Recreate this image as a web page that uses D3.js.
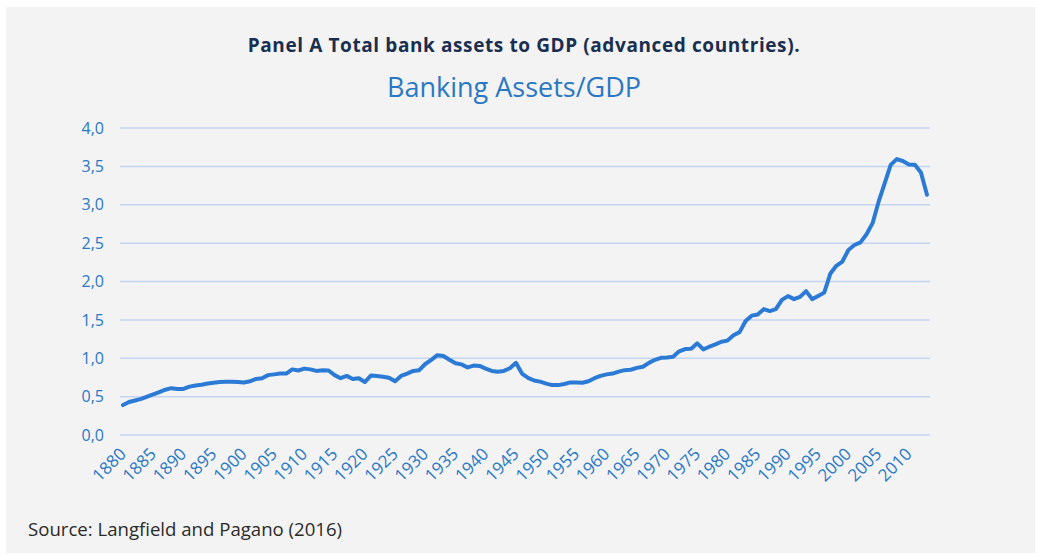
<!DOCTYPE html>
<html>
<head>
<meta charset="utf-8">
<script src="https://cdn.jsdelivr.net/npm/d3@7"></script>
<style>
  html, body { margin: 0; padding: 0; background: #ffffff; }
  svg { display: block; }
</style>
</head>
<body>
<svg id="chart" width="1037" height="555"></svg>
<script>
// Banking assets relative to GDP, advanced countries, 1880–2013
const years = d3.range(1880, 2014);
const assetsToGdp = [
  0.39, 0.43, 0.45, 0.47, 0.50, 0.53, 0.56, 0.59, 0.61, 0.60,
  0.60, 0.63, 0.645, 0.655, 0.67, 0.68, 0.69, 0.695, 0.695, 0.69,
  0.685, 0.70, 0.73, 0.74, 0.78, 0.79, 0.80, 0.80, 0.855, 0.84,
  0.865, 0.855, 0.835, 0.845, 0.84, 0.78, 0.74, 0.77, 0.73, 0.74,
  0.69, 0.775, 0.77, 0.76, 0.745, 0.70, 0.77, 0.80, 0.835, 0.845,
  0.925, 0.98, 1.04, 1.03, 0.98, 0.935, 0.92, 0.88, 0.905, 0.90,
  0.865, 0.835, 0.825, 0.835, 0.87, 0.94, 0.80, 0.745, 0.71, 0.695,
  0.67, 0.65, 0.65, 0.665, 0.685, 0.685, 0.68, 0.70, 0.74, 0.77,
  0.79, 0.80, 0.825, 0.845, 0.85, 0.875, 0.89, 0.94, 0.98, 1.005,
  1.01, 1.02, 1.09, 1.12, 1.125, 1.195, 1.115, 1.15, 1.18, 1.215,
  1.23, 1.30, 1.34, 1.485, 1.555, 1.57, 1.64, 1.615, 1.64, 1.76,
  1.81, 1.77, 1.80, 1.875, 1.77, 1.81, 1.855, 2.10, 2.205, 2.26,
  2.41, 2.475, 2.51, 2.615, 2.76, 3.04, 3.28, 3.52, 3.595, 3.57,
  3.525, 3.52, 3.42, 3.13
];
const yTicks = [0, 0.5, 1.0, 1.5, 2.0, 2.5, 3.0, 3.5, 4.0];
const xTickYears = years.filter(y => (y - 1880) % 5 === 0);

const panelTitle = "Panel A Total bank assets to GDP (advanced countries).";
const chartTitle = "Banking Assets/GDP";
const sourceNote = "Source: Langfield and Pagano (2016)";

const svg = d3.select("#chart");
const fontFam = "'Open Sans', 'Lato', 'DejaVu Sans', sans-serif";
const blue = "#2b7bd6";
const labelBlue = "#2a78c4";

// panel background
svg.append("rect")
  .attr("x", 6).attr("y", 7)
  .attr("width", 1029).attr("height", 546)
  .attr("fill", "#f3f3f3");

const plot = { left: 120, right: 930, top: 128, bottom: 435 };

const x = d3.scaleBand()
  .domain(years)
  .range([plot.left, plot.right])
  .paddingInner(0).paddingOuter(0);

const y = d3.scaleLinear()
  .domain([0, 4])
  .range([plot.bottom, plot.top]);

// horizontal gridlines
svg.append("g")
  .selectAll("line")
  .data(yTicks)
  .join("line")
  .attr("x1", plot.left).attr("x2", plot.right)
  .attr("y1", d => y(d)).attr("y2", d => y(d))
  .attr("stroke", "#c4d5f4")
  .attr("stroke-width", 1.5);

// y axis labels
const yAxis = d3.axisLeft(y)
  .tickValues(yTicks)
  .tickSize(0)
  .tickPadding(16)
  .tickFormat(d => d3.format(".1f")(d).replace(".", ","));

svg.append("g")
  .attr("transform", `translate(${plot.left},0)`)
  .call(yAxis)
  .call(g => g.select(".domain").remove())
  .call(g => g.selectAll("text")
    .attr("fill", labelBlue)
    .attr("font-family", fontFam)
    .attr("font-size", 16));

// x axis labels, rotated
const xAxis = d3.axisBottom(x)
  .tickValues(xTickYears)
  .tickSize(0)
  .tickPadding(0);

svg.append("g")
  .attr("transform", `translate(0,${plot.bottom})`)
  .call(xAxis)
  .call(g => g.select(".domain").remove())
  .call(g => g.selectAll("text")
    .attr("fill", labelBlue)
    .attr("font-family", fontFam)
    .attr("font-size", 17)
    .attr("text-anchor", "end")
    .attr("dy", 0)
    .attr("y", 0)
    .attr("transform", "translate(4,20) rotate(-45)"));

// data line
const line = d3.line()
  .x((d, i) => x(years[i]) + x.bandwidth() / 2)
  .y(d => y(d))
  .curve(d3.curveLinear);

svg.append("path")
  .datum(assetsToGdp)
  .attr("d", line)
  .attr("fill", "none")
  .attr("stroke", blue)
  .attr("stroke-width", 4)
  .attr("stroke-linejoin", "round")
  .attr("stroke-linecap", "round");

// titles
svg.append("text")
  .attr("x", 524).attr("y", 52)
  .attr("text-anchor", "middle")
  .attr("font-family", fontFam)
  .attr("font-weight", "bold")
  .attr("font-size", 19)
  .attr("letter-spacing", 0.6)
  .attr("fill", "#1a2e50")
  .text(panelTitle);

svg.append("text")
  .attr("x", 514).attr("y", 97)
  .attr("text-anchor", "middle")
  .attr("font-family", fontFam)
  .attr("font-size", 27)
  .attr("fill", labelBlue)
  .text(chartTitle);

svg.append("text")
  .attr("x", 28).attr("y", 536)
  .attr("font-family", fontFam)
  .attr("font-size", 18.6)
  .attr("fill", "#2b2b2b")
  .text(sourceNote);
</script>
</body>
</html>
